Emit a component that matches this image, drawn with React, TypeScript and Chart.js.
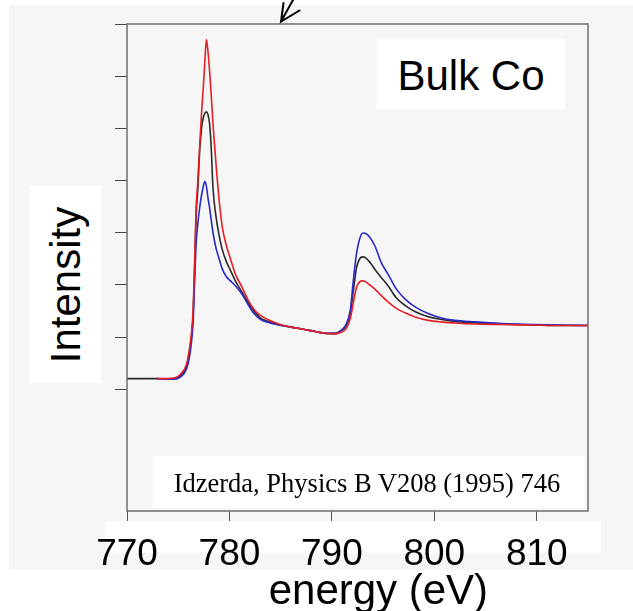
import React, { useEffect, useRef } from 'react';
import { Chart, registerables } from 'chart.js';

Chart.register(...registerables);

// Photon energy (eV)
const energy = [
  770, 772.9, 774, 774.6, 775.2, 775.8, 776.1, 776.3, 776.45, 776.6,
  776.75, 776.9, 777.1, 777.3, 777.45, 777.6, 777.75, 777.9, 778.05, 778.2,
  778.4, 778.7, 779.0, 779.3, 779.7, 780.1, 780.6, 781.2, 781.8, 782.4,
  783.0, 783.8, 784.8, 786.0, 787.2, 788.5, 789.5, 790.3, 790.9, 791.4,
  791.8, 792.1, 792.4, 792.7, 793.0, 793.3, 793.7, 794.2, 794.8, 795.5,
  796.3, 797.2, 798.2, 799.4, 800.6, 802, 804, 806.5, 809.5, 812.5, 815,
];

// Intensity (arbitrary units, 1 unit = one y tick)
const black = [
  0.2, 0.2, 0.19, 0.2, 0.25, 0.42, 0.7, 1.02, 1.4, 2.3,
  3.35, 3.8, 4.6, 5.05, 5.22, 5.3, 5.33, 5.28, 5.12, 4.72,
  3.85, 3.3, 2.95, 2.68, 2.45, 2.28, 2.07, 1.87, 1.67, 1.5,
  1.37, 1.3, 1.24, 1.19, 1.15, 1.1, 1.07, 1.07, 1.12, 1.22,
  1.46, 1.9, 2.33, 2.5, 2.54, 2.52, 2.44, 2.3, 2.15, 1.98,
  1.75, 1.6, 1.48, 1.39, 1.34, 1.3, 1.27, 1.25, 1.23, 1.22, 1.22,
];

const red = [
  null, 0.2, 0.2, 0.21, 0.28, 0.47, 0.78, 1.1, 1.5, 2.45,
  3.5, 3.95, 4.7, 5.38, 5.81, 6.3, 6.72, 6.5, 6.15, 5.72,
  5.08, 4.3, 3.62, 3.12, 2.76, 2.5, 2.2, 1.97, 1.72, 1.53,
  1.42, 1.33, 1.25, 1.19, 1.15, 1.1, 1.07, 1.06, 1.09, 1.16,
  1.36, 1.66, 1.95, 2.06, 2.08, 2.06, 2.0, 1.92, 1.8, 1.67,
  1.55, 1.46, 1.38, 1.32, 1.29, 1.27, 1.25, 1.24, 1.23, 1.22, 1.22,
];

const blue = [
  null, 0.2, 0.19, 0.19, 0.23, 0.38, 0.62, 0.92, 1.28, 2.05,
  2.8, 3.15, 3.5, 3.75, 3.9, 3.99, 3.9, 3.68, 3.5, 3.28,
  3.0, 2.7, 2.5, 2.31, 2.16, 2.08, 1.98, 1.83, 1.63, 1.45,
  1.34, 1.28, 1.23, 1.19, 1.15, 1.1, 1.07, 1.07, 1.13, 1.25,
  1.52, 2.1, 2.6, 2.88, 3.0, 2.99, 2.92, 2.75, 2.44, 2.2,
  1.92, 1.72, 1.57, 1.45, 1.37, 1.32, 1.29, 1.26, 1.24, 1.23, 1.22,
];

const xTicks = [770, 780, 790, 800, 810];
const yTicks = [0, 1, 2, 3, 4, 5, 6, 7];

const X_MIN = 770;
const X_MAX = 815;
const Y_MIN = -2.346;
const Y_MAX = 7.019;

const W = 633;
const H = 611;
const SANS = '"Liberation Sans", Arial, sans-serif';
const SERIF = '"Liberation Serif", "Times New Roman", serif';

const toPoints = (ys: (number | null)[]) =>
  energy
    .map((x, i) => ({ x, y: ys[i] }))
    .filter((p) => p.y !== null) as { x: number; y: number }[];

const decor = {
  id: 'decor',
  beforeDraw(chart: any) {
    const c = chart.ctx;
    c.save();
    c.fillStyle = '#ffffff';
    c.fillRect(0, 0, W, H);
    c.fillStyle = '#f6f6f6';
    c.fillRect(9, 5, W - 9, 565);
    c.fillStyle = '#ffffff';
    c.fillRect(105, 521, 496, 32);
    c.restore();
  },
  afterDatasetsDraw(chart: any) {
    const c = chart.ctx;
    const { left, top, right, bottom } = chart.chartArea;
    c.save();
    c.strokeStyle = '#767676';
    c.lineWidth = 1.6;
    c.strokeRect(left, top, right - left, bottom - top);
    // arrow pointing down-left above the frame
    c.strokeStyle = '#000';
    c.lineWidth = 2;
    c.lineCap = 'round';
    c.beginPath();
    c.moveTo(293, 0);
    c.lineTo(281, 21.5);
    c.moveTo(283.5, 3);
    c.lineTo(281, 21.5);
    c.lineTo(299.5, 10.5);
    c.stroke();
    c.restore();
  },
};

export default function App() {
  const ref = useRef<HTMLCanvasElement | null>(null);

  useEffect(() => {
    if (!ref.current) return;
    const line = (data: any, color: string) => ({
      data,
      borderColor: color,
      borderWidth: 1.6,
      pointRadius: 0,
      fill: false,
      cubicInterpolationMode: 'monotone' as const,
    });
    const chart = new Chart(ref.current, {
      type: 'line',
      data: {
        datasets: [
          line(toPoints(red), '#e51f25'),
          line(toPoints(blue), '#2a2ac6'),
          line(toPoints(black), '#2b2b2b'),
        ],
      },
      options: {
        animation: false,
        responsive: false,
        maintainAspectRatio: false,
        layout: { padding: { left: 115, top: 24, right: 45, bottom: 0 } },
        plugins: { legend: { display: false }, tooltip: { enabled: false } },
        scales: {
          x: {
            type: 'linear',
            min: X_MIN,
            max: X_MAX,
            afterBuildTicks: (s: any) => {
              s.ticks = xTicks.map((v) => ({ value: v }));
            },
            afterFit: (s: any) => {
              s.height = 100;
            },
            grid: {
              display: true,
              drawOnChartArea: false,
              drawTicks: true,
              tickLength: 10,
              color: '#555',
              lineWidth: 1,
            },
            border: { display: false },
            ticks: {
              autoSkip: false,
              maxRotation: 0,
              padding: 12,
              color: '#000',
              font: { family: SANS, size: 37 },
            },
          },
          y: {
            type: 'linear',
            min: Y_MIN,
            max: Y_MAX,
            afterBuildTicks: (s: any) => {
              s.ticks = yTicks.map((v) => ({ value: v }));
            },
            afterFit: (s: any) => {
              s.width = 12;
            },
            grid: {
              display: true,
              drawOnChartArea: false,
              drawTicks: true,
              tickLength: 12,
              color: '#444',
              lineWidth: 1,
            },
            border: { display: false },
            ticks: { display: false },
          },
        },
      },
      plugins: [decor],
    });
    return () => chart.destroy();
  }, []);

  const text = { position: 'absolute' as const, color: '#000', whiteSpace: 'nowrap' as const };

  return (
    <div style={{ position: 'fixed', left: 0, top: 0, width: W, height: H, overflow: 'hidden', background: '#fff' }}>
      <canvas ref={ref} width={W} height={H} style={{ position: 'absolute', left: 0, top: 0, width: W, height: H }} />
      {/* y axis title */}
      <div style={{ position: 'absolute', left: 30, top: 186, width: 71, height: 197, background: '#fff' }}>
        <div
          style={{
            ...text,
            left: '50%',
            top: '50%',
            transform: 'translate(-50%, -50%) rotate(-90deg)',
            fontFamily: SANS,
            fontSize: 42,
            lineHeight: '42px',
          }}
        >
          Intensity
        </div>
      </div>
      {/* sample label */}
      <div style={{ position: 'absolute', left: 377, top: 39, width: 188, height: 70, background: '#fff' }}>
        <div style={{ ...text, left: 0, width: 188, top: 16.4, textAlign: 'center', fontFamily: SANS, fontSize: 42, lineHeight: '42px' }}>
          Bulk Co
        </div>
      </div>
      {/* citation */}
      <div style={{ position: 'absolute', left: 153, top: 456, width: 432, height: 52, background: '#fff' }}>
        <div style={{ ...text, left: -2, width: 432, top: 13.8, textAlign: 'center', fontFamily: SERIF, fontSize: 26.5, lineHeight: '26.5px' }}>
          Idzerda, Physics B V208 (1995) 746
        </div>
      </div>
      {/* x axis title */}
      <div style={{ ...text, left: 178.4, width: 400, top: 569.4, textAlign: 'center', fontFamily: SANS, fontSize: 42, lineHeight: '42px' }}>
        energy (eV)
      </div>
    </div>
  );
}
